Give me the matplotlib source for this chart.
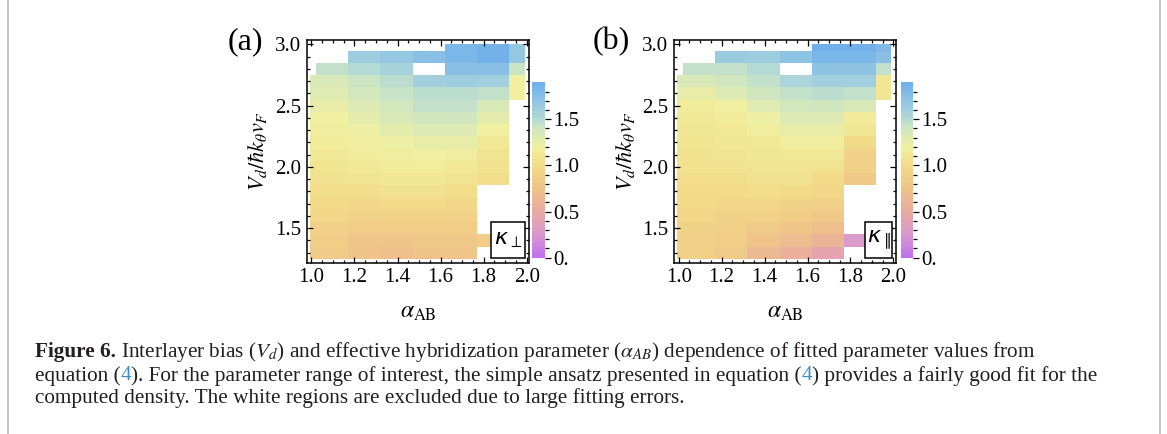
import numpy as np
import matplotlib.pyplot as plt
from matplotlib.colors import LinearSegmentedColormap
from matplotlib.lines import Line2D
from matplotlib.patches import Rectangle
from matplotlib.ticker import MultipleLocator, FixedLocator

plt.rcParams['font.family'] = 'Liberation Serif'
plt.rcParams['mathtext.fontset'] = 'stix'

nan = np.nan

# grid of the fitted parameters (cell edges)
alpha_edges = [0.993, 1.02, 1.17, 1.32, 1.47, 1.62, 1.77, 1.92, 1.99]
vd_edges = [1.25, 1.35, 1.45, 1.55, 1.65, 1.75, 1.85, 1.95, 2.05, 2.15,
            2.25, 2.35, 2.45, 2.55, 2.65, 2.75, 2.85, 2.95, 3.0]

# rows from Vd = 1.3 (bottom) to 3.0 (top); columns alpha ~1.0 ... 1.95
kappa_perp = [
    [0.82, 0.75, 0.72, 0.75, 0.78, nan, nan],
    [0.85, 0.78, 0.78, 0.80, 0.80, 0.85, nan],
    [0.90, 0.85, 0.85, 0.85, 0.85, nan, nan],
    [0.95, 0.90, 0.92, 0.92, 0.90, nan, nan],
    [0.98, 0.95, 0.98, 0.98, 0.95, nan, nan],
    [1.02, 1.02, 1.05, 1.05, 1.02, nan, nan],
    [1.05, 1.08, 1.10, 1.10, 1.08, 1.02, nan],
    [1.08, 1.12, 1.15, 1.15, 1.12, 1.05, nan],
    [1.12, 1.15, 1.18, 1.20, 1.18, 1.08, nan],
    [1.15, 1.18, 1.22, 1.25, 1.25, 1.12, nan],
    [1.18, 1.22, 1.28, 1.32, 1.32, 1.20, nan],
    [1.20, 1.28, 1.35, 1.40, 1.40, 1.28, nan],
    [1.25, 1.32, 1.38, 1.45, 1.45, 1.35, nan],
    [1.30, 1.38, 1.43, 1.48, 1.48, 1.45, 1.20],
    [1.35, 1.42, 1.48, 1.60, 1.62, 1.60, 1.20],
    [1.45, 1.50, 1.58, nan, 1.75, 1.75, 1.42],
    [nan, 1.62, 1.68, 1.75, 1.82, 1.87, 1.68],
    [nan, nan, nan, nan, 1.82, 1.87, 1.68],
]

kappa_par = [
    [0.88, 0.82, 0.65, 0.55, 0.42, nan, nan],
    [0.90, 0.85, 0.75, 0.68, 0.60, 0.28, nan],
    [0.92, 0.88, 0.82, 0.78, 0.70, nan, nan],
    [0.95, 0.92, 0.90, 0.85, 0.80, nan, nan],
    [0.98, 0.95, 0.95, 0.92, 0.88, nan, nan],
    [1.00, 1.00, 1.02, 1.00, 0.95, nan, nan],
    [1.02, 1.02, 1.05, 1.05, 1.00, 0.80, nan],
    [1.05, 1.05, 1.08, 1.08, 1.05, 0.88, nan],
    [1.05, 1.08, 1.10, 1.12, 1.12, 0.90, nan],
    [1.08, 1.10, 1.12, 1.18, 1.18, 1.00, nan],
    [1.10, 1.12, 1.18, 1.25, 1.25, 1.10, nan],
    [1.12, 1.15, 1.22, 1.32, 1.32, 1.15, nan],
    [1.15, 1.20, 1.30, 1.38, 1.40, 1.35, nan],
    [1.25, 1.32, 1.40, 1.45, 1.48, 1.45, 1.10],
    [1.35, 1.40, 1.45, 1.55, 1.60, 1.60, 1.10],
    [1.45, 1.45, 1.50, nan, 1.72, 1.72, 1.45],
    [nan, 1.65, 1.62, 1.72, 1.82, 1.82, 1.75],
    [nan, nan, nan, nan, 1.88, 1.88, 1.80],
]

# the first cell starts a bit later in the 2.75-2.85 row
notch_vd = 2.8

pastel = LinearSegmentedColormap.from_list('pastel', [
    (0.00, '#c070f0'), (0.13, '#d898d0'), (0.26, '#e8aaa0'),
    (0.40, '#f0c488'), (0.53, '#f2dc88'), (0.63, '#f0f0a0'),
    (0.74, '#cfe6c0'), (0.80, '#b0d8d8'), (0.90, '#90c4e4'),
    (1.00, '#6eaeea')])
vmin, vmax = 0.0, 1.9

W, H = 1167, 434
fig = plt.figure(figsize=(W / 100, H / 100), dpi=100)


def px(x0, y0, x1, y1):
    return [x0 / W, 1 - y1 / H, (x1 - x0) / W, (y1 - y0) / H]


def expand(vals):
    z = np.array(vals, dtype=float)
    centers = 0.5 * (np.array(vd_edges[:-1]) + np.array(vd_edges[1:]))
    first = z[:, 0].copy()
    first[np.isclose(centers, notch_vd)] = nan
    return np.ma.masked_invalid(np.column_stack([first, z]))


panels = [
    (kappa_perp, '(a)', r'$\kappa_{\perp}$', (306.7, 39.5, 529.3, 262.5),
     (532.3, 82.3, 545, 257.7), 245.5, (0.827, 0.981)),
    (kappa_par, '(b)', r'$\kappa_{\parallel}$', (674, 39.5, 896, 262.5),
     (900.7, 82.3, 913.3, 257.7), 611, (0.860, 0.982)),
]

for vals, tag, klabel, box, cbox, tagx, kx in panels:
    ax = fig.add_axes(px(*box))
    mesh = ax.pcolormesh(alpha_edges, vd_edges, expand(vals), cmap=pastel,
                         vmin=vmin, vmax=vmax, shading='flat',
                         edgecolor='none', antialiased=False)
    ax.set_xlim(0.978, 2.012)
    ax.set_ylim(1.22, 3.04)
    ax.xaxis.set_major_locator(MultipleLocator(0.2))
    ax.xaxis.set_minor_locator(MultipleLocator(0.05))
    ax.yaxis.set_major_locator(MultipleLocator(0.5))
    ax.yaxis.set_minor_locator(MultipleLocator(0.1))
    ax.tick_params(which='both', direction='in', top=True, right=True,
                   width=0.9, labelsize=15)
    ax.tick_params(which='major', length=4.5, pad=4)
    ax.tick_params(which='minor', length=2.5)
    for s in ax.spines.values():
        s.set_linewidth(1.1)
    ax.set_xlabel(r'$\alpha_{\mathrm{AB}}$', fontsize=17, labelpad=11)
    ax.set_ylabel(r'$V_d/\hbar k_\theta v_F$', fontsize=16, labelpad=4)
    # label box in the lower right corner
    ax.add_patch(Rectangle((kx[0], 0.019), kx[1] - kx[0], 0.161,
                           transform=ax.transAxes, fc='white', ec='black',
                           lw=1.1, zorder=5))
    ax.text((kx[0] + kx[1]) / 2, 0.098, klabel, transform=ax.transAxes,
            ha='center', va='center', fontsize=16,
            math_fontfamily='dejavusans', zorder=6)
    fig.text(tagx / W, 1 - 41.5 / H, tag, ha='center', va='center',
             fontsize=23)

    cax = fig.add_axes(px(*cbox))
    cb = fig.colorbar(mesh, cax=cax)
    cb.outline.set_visible(False)
    cb.set_ticks([0, 0.5, 1.0, 1.5])
    cb.set_ticklabels(['0.', '0.5', '1.0', '1.5'])
    cax.yaxis.set_minor_locator(FixedLocator(np.arange(0, 1.9, 0.1)))
    cax.tick_params(which='both', direction='out', width=0.9, labelsize=15)
    cax.tick_params(which='major', length=4, pad=2)
    cax.tick_params(which='minor', length=3)

# caption
blue = '#3b8ec8'
ink = '#231f20'
cap_size = 15.3
lines = [
    [('Figure 6.', ink, 'bold'),
     (' Interlayer bias ($V_d$) and effective hybridization parameter '
      r'($\alpha_{AB}$) dependence of fitted parameter values from',
      ink, 'normal')],
    [('equation (', ink, 'normal'), ('4', blue, 'normal'),
     ('). For the parameter range of interest, the simple ansatz '
      'presented in equation (', ink, 'normal'), ('4', blue, 'normal'),
     (') provides a fairly good fit for the', ink, 'normal')],
    [('computed density. The white regions are excluded due to large '
      'fitting errors.', ink, 'normal')],
]
renderer = fig.canvas.get_renderer()


def width_of(s):
    t = fig.text(0, 0, s, fontsize=cap_size)
    w = t.get_window_extent(renderer).width
    t.remove()
    return w


space_w = width_of('a a') - width_of('aa')
for i, parts in enumerate(lines):
    x = 35.0
    y = 357.5 + 23 * i
    for s, c, wt in parts:
        if s.startswith(' '):
            x += space_w
            s = s[1:]
        t = fig.text(x / W, 1 - y / H, s, color=c, fontsize=cap_size,
                     fontweight=wt, ha='left', va='baseline')
        x += t.get_window_extent(renderer).width

# grey frame around the figure
fig.add_artist(Line2D([7.5 / W, 7.5 / W], [0, 1], color='#c8c8c8', lw=1.5))
fig.add_artist(Line2D([1160 / W, 1160 / W], [0, 1], color='#c8c8c8', lw=1.5))

fig.savefig('out.png', dpi=100)
